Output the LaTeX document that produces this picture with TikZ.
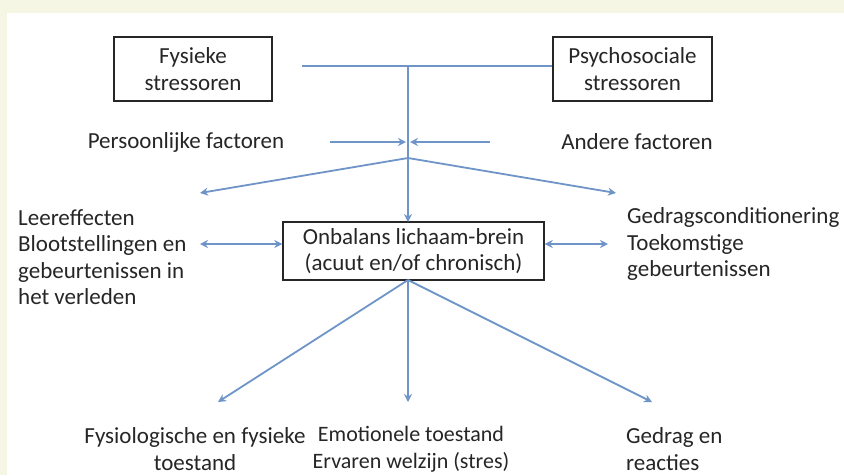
\documentclass[tikz,border=0pt]{standalone}
\usepackage{fontspec}
\setmainfont{Carlito}
\usetikzlibrary{arrows.meta}
\definecolor{cream}{HTML}{F5F7E4}
\definecolor{lblue}{HTML}{6F94C8}
\definecolor{txt}{HTML}{262626}
\tikzset{
  every node/.style={font=\fontsize{23}{26.5}\selectfont, text=txt},
  box/.style={draw=txt, line width=1.4pt, align=center, inner sep=0pt},
  lbl/.style={align=center, inner sep=0pt},
  lbll/.style={align=left, inner sep=0pt, anchor=west},
  conn/.style={draw=lblue, line width=1.8pt},
  arr/.style={conn, -{Stealth[length=8pt,width=8pt]}},
  darr/.style={conn, {Stealth[length=8pt,width=8pt]}-{Stealth[length=8pt,width=8pt]}},
}
\begin{document}
\begin{tikzpicture}[x=1pt,y=-1pt]
\useasboundingbox (0,0) rectangle (844,475);
\fill[cream] (0,0) rectangle (844,475);
\fill[white] (7,13) rectangle (844,475);

% boxes
\node[box, minimum width=158pt, minimum height=64pt] (fys) at (193,69) {Fysieke\\stressoren};
\node[box, minimum width=159pt, minimum height=64pt] (psy) at (632.5,69) {Psychosociale\\stressoren};
\node[box, minimum width=261pt, minimum height=58pt] (onb) at (413.5,251) {Onbalans lichaam-brein\\(acuut en/of chronisch)};

% coordinates
\coordinate (hl) at (302,66);
\coordinate (hj) at (408,66);
\coordinate (hr) at (psy.west |- 0,66);
\coordinate (jn) at (408,158);
\coordinate (onbt) at (408,222);
\coordinate (onbb) at (408,280);

% top connectors
\draw[conn] (hl) -- (hr);
\draw[arr] (hj) -- (onbt);

% factors
\node[lbl] (pers) at (186,142) {Persoonlijke factoren};
\node[lbl] (and) at (637,142) {Andere factoren};
\coordinate (pa) at (330,142);
\coordinate (pb) at (406,142);
\coordinate (aa) at (490,142);
\coordinate (ab) at (410,142);
\draw[arr] (pa) -- (pb);
\draw[arr] (aa) -- (ab);

% side branches
\coordinate (bl) at (200,193);
\coordinate (br) at (616,193);
\draw[arr] (jn) -- (bl);
\draw[arr] (jn) -- (br);

% side texts
\node[lbll] (left) at (18,257) {Leereffecten\\Blootstellingen en\\gebeurtenissen in\\het verleden};
\node[lbll] (right) at (627,244) {Gedragsconditionering\\Toekomstige\\gebeurtenissen};
\coordinate (la) at (200,244);
\coordinate (ra) at (608,244);
\draw[darr] (la) -- (onb.west |- la);
\draw[darr] (onb.east |- ra) -- (ra);

% bottom
\coordinate (b1) at (218,402);
\coordinate (b2) at (408,402);
\coordinate (b3) at (652,402);
\draw[arr] (onbb) -- (b1);
\draw[arr] (onbb) -- (b2);
\draw[arr] (onbb) -- (b3);

\node[lbl] (o1) at (195,449) {Fysiologische en fysieke\\toestand};
\node[lbl, font=\fontsize{22}{26.5}\selectfont] (o2) at (411,449) {Emotionele toestand\\Ervaren welzijn (stres)};
\node[lbll] (o3) at (626,449) {Gedrag en\\reacties};
\end{tikzpicture}
\end{document}
